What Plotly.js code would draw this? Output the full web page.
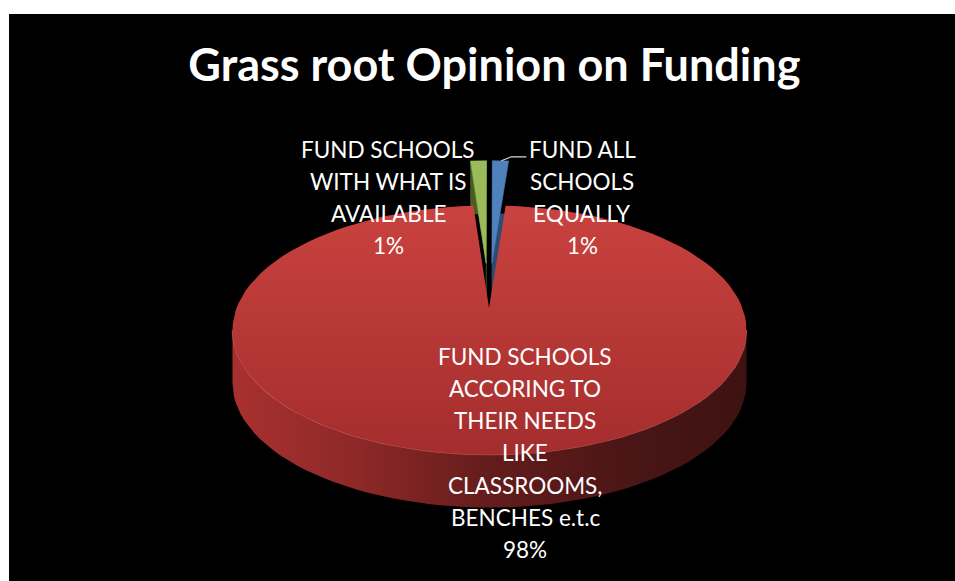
<!DOCTYPE html>
<html><head><meta charset="utf-8">
<script src="https://cdn.plot.ly/plotly-3.0.1.min.js"></script>
<style>html,body{margin:0;padding:0;background:#fff;}</style>
</head><body><div id="chart" style="width:955px;height:581px;"></div>
<script>
// ---- data ----
const categories = ["FUND ALL<br>SCHOOLS<br>EQUALLY",
  "FUND SCHOOLS<br>ACCORING TO<br>THEIR NEEDS<br>LIKE<br>CLASSROOMS,<br>BENCHES e.t.c",
  "FUND SCHOOLS<br>WITH WHAT IS<br>AVAILABLE"];
const values = [1, 98, 1];
const chartTitle = "Grass root Opinion on Funding";

// ---- style ----
const lightColors = ['#4F81BD', '#C0504D', '#9BBB59'];
const darkColors = ['#2B4C74', '#6E2020', '#4A5E24'];
const pulls = [0.36, 0, 0.36];
const labelPos = [[582, 149, 32.3], [525, 356, 32.3], [388, 149, 32]]; // centre x, first line y, line step
const FONT = 'Lato, "Open Sans", sans-serif';

// geometry of the projected disc (axis units = pixels)
const cx = 489.5, cy = 330, A = 257, B = 124.5, apexX = 489, apexY = 308, D = 53;
const rad = d => d * Math.PI / 180;
const P = d => [cx + A * Math.sin(rad(d)), cy - B * Math.cos(rad(d))];
function arc(d1, d2, dx = 0, dy = 0, n = 120) {
  const xs = [], ys = [];
  const steps = Math.max(2, Math.ceil(Math.abs(d2 - d1) / 360 * n) + 1);
  for (let i = 0; i <= steps; i++) {
    const p = P(d1 + (d2 - d1) * i / steps);
    xs.push(p[0] + dx); ys.push(p[1] + dy);
  }
  return [xs, ys];
}

const total = values.reduce((s, v) => s + v, 0);
const angles = [];
let acc = 0;
values.forEach(v => { const s = acc; acc += v / total * 360; angles.push([s, acc]); });

const traces = [];
const bigIdx = values.indexOf(Math.max(...values));

// side band (front half) of the large slice
{
  const [tx, ty] = arc(90, 270);
  const [bx, by] = arc(270, 90, 0, D);
  traces.push({type: 'scatter', mode: 'lines', x: tx.concat(bx), y: ty.concat(by), fill: 'toself',
    line: {width: 0, color: 'rgba(0,0,0,0)'},
    fillgradient: {type: 'horizontal', colorscale: [[0, '#A8312F'], [0.25, '#8C2827'], [0.5, '#641C1C'], [0.8, '#481515'], [1, '#3E1212']]},
    hoverinfo: 'skip'});
  traces.push({type: 'scatter', mode: 'lines', x: tx, y: ty, line: {width: 1.5, color: 'rgba(225,100,95,0.7)'}, hoverinfo: 'skip'});
}

// small exploded slices
values.forEach((v, i) => {
  if (i === bigIdx) return;
  const [s, e] = angles[i];
  const m = (s + e) / 2;
  const ex = A * Math.sin(rad(m)) * pulls[i], ey = -B * Math.cos(rad(m)) * pulls[i];
  const [ax, ay] = arc(s, e, ex, ey, 720);
  // lower copy + walls (dark)
  const [lx, ly] = arc(s, e, ex, ey + D, 720);
  const dxs = [apexX + ex, ax[0], lx[0]].concat(lx).concat([apexX + ex, apexX + ex, ax[ax.length - 1]]);
  const dys = [apexY + ey, ay[0], ly[0]].concat(ly).concat([apexY + ey + D, apexY + ey, ay[ay.length - 1]]);
  traces.push({type: 'scatter', mode: 'lines', x: dxs, y: dys, fill: 'toself', fillcolor: darkColors[i],
    line: {width: 0.5, color: darkColors[i]}, hoverinfo: 'skip'});
  traces.push({type: 'scatter', mode: 'lines', x: [apexX + ex].concat(ax).concat([apexX + ex]),
    y: [apexY + ey].concat(ay).concat([apexY + ey]), fill: 'toself', fillcolor: lightColors[i],
    line: {width: 0.5, color: lightColors[i]}, hoverinfo: 'skip'});
  if (i === 0) {
    const sx = ax[Math.floor(ax.length / 2)], sy = ay[Math.floor(ay.length / 2)];
    traces.push({type: 'scatter', mode: 'lines', x: [sx, sx + 10, sx + 25], y: [sy, sy - 4, sy - 4],
      line: {width: 1.2, color: '#d9d9d9'}, hoverinfo: 'skip'});
  }
});

// top face of the large slice
{
  const [s, e] = angles[bigIdx];
  const [tx, ty] = arc(s, e);
  traces.push({type: 'scatter', mode: 'lines', x: [apexX].concat(tx).concat([apexX]), y: [apexY].concat(ty).concat([apexY]),
    fill: 'toself', line: {width: 0, color: 'rgba(0,0,0,0)'},
    fillgradient: {type: 'vertical', colorscale: [[0, '#A42D2D'], [0.5, '#B73836'], [1, '#C9423F']]},
    hoverinfo: 'skip'});
}

// labels
const annotations = [];
categories.forEach((c, i) => {
  const pct = Math.round(values[i] / total * 100) + '%';
  const lines = c.split('<br>').concat([pct]);
  const [lx, ly, step] = labelPos[i];
  lines.forEach((t, k) => annotations.push({xref: 'x', yref: 'y', x: lx, y: ly + k * step, text: t, showarrow: false,
    xanchor: 'center', yanchor: 'middle', font: {family: FONT, size: 22.5, color: '#ffffff'}}));
});

const layout = {
  width: 955, height: 581,
  margin: {l: 9, r: 0, t: 14, b: 0, pad: 0},
  paper_bgcolor: '#ffffff', plot_bgcolor: '#000000',
  showlegend: false, hovermode: false,
  title: {text: chartTitle, font: {family: FONT, size: 45, color: '#ffffff', weight: 700},
    xref: 'paper', yref: 'paper', x: 490 / 955, xanchor: 'center', y: 1 - 53 / 581, yanchor: 'middle'},
  xaxis: {range: [9, 955], visible: false, fixedrange: true},
  yaxis: {range: [581, 14], visible: false, fixedrange: true},
  annotations: annotations
};
Plotly.newPlot('chart', traces, layout, {staticPlot: true, displayModeBar: false});
</script></body></html>
